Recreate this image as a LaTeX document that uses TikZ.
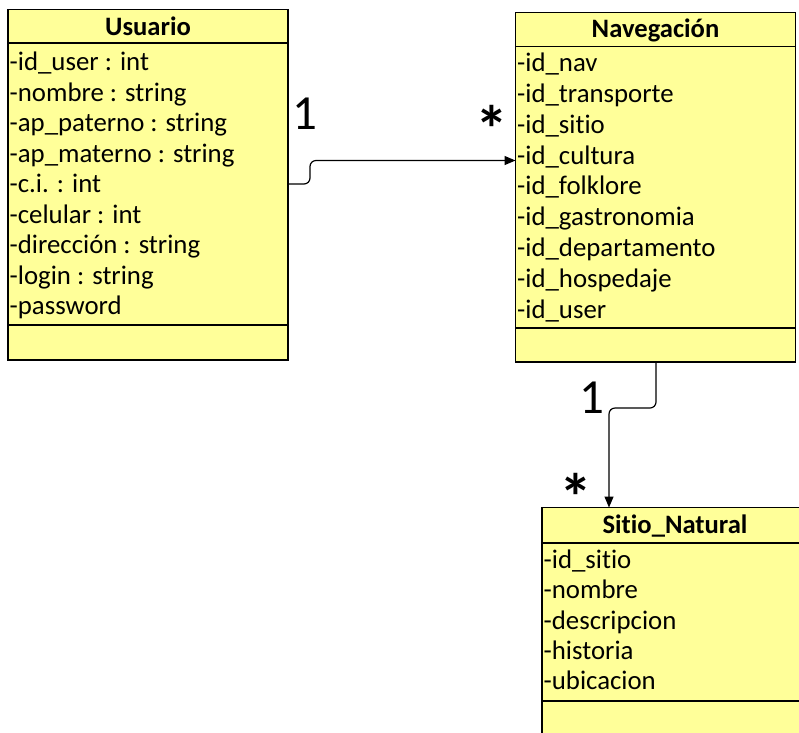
\documentclass[tikz,border=0pt]{standalone}
\usepackage{fontspec}
\setmainfont{Carlito}[Ligatures=NoCommon]
\usetikzlibrary{arrows.meta}
\definecolor{classfill}{HTML}{FFFF99}
\tikzset{
  classbox/.style={draw=black, line width=1.3pt, fill=classfill},
  sepline/.style={draw=black, line width=1.3pt},
  attr/.style={anchor=base west, inner sep=0pt, font=\fontsize{26.8}{30}\selectfont},
  ctitle/.style={anchor=base, inner sep=0pt, font=\fontsize{26.6}{30}\selectfont\bfseries},
  mult/.style={inner sep=0pt, font=\fontsize{49}{55}\selectfont},
  star/.style={anchor=base, inner sep=0pt, font=\fontsize{66}{70}\selectfont\bfseries},
  assoc/.style={draw=black, line width=1.2pt, rounded corners=6pt,
                -{Triangle[length=11pt,width=9pt]}}
}
\begin{document}
\begin{tikzpicture}[x=1pt, y=-1pt]
\useasboundingbox (0,0) rectangle (799,732);
\clip (0,0) rectangle (799,732);

% ---- Usuario ----
\path[classbox] (8,9.5) rectangle (288,360);
\draw[sepline] (8,43) -- (288,43);
\draw[sepline] (8,325) -- (288,325);
\node[ctitle] (usuarioT) at (148,35) {Usuario};
\node[attr] (u1) at (9.5,70.7) {-id\_user : int};
\node[attr] (u2) at (9.5,101.2) {-nombre : string};
\node[attr] (u3) at (9.5,131.7) {-ap\_paterno : string};
\node[attr] (u4) at (9.5,162.2) {-ap\_materno : string};
\node[attr] (u5) at (9.5,192.7) {-c.i. : int};
\node[attr] (u6) at (9.5,223.2) {-celular : int};
\node[attr] (u7) at (9.5,253.7) {-dirección : string};
\node[attr] (u8) at (9.5,284.2) {-login : string};
\node[attr] (u9) at (9.5,314.7) {-password};
\coordinate (usuarioR) at (288,184);

% ---- Navegación ----
\path[classbox] (515.5,12.5) rectangle (795.5,362);
\draw[sepline] (515.5,46.5) -- (795.5,46.5);
\draw[sepline] (515.5,328) -- (795.5,328);
\node[ctitle] (navT) at (655.5,37) {Navegación};
\node[attr] (n1) at (517,71.7) {-id\_nav};
\node[attr] (n2) at (517,102.5) {-id\_transporte};
\node[attr] (n3) at (517,133.3) {-id\_sitio};
\node[attr] (n4) at (517,164.1) {-id\_cultura};
\node[attr] (n5) at (517,194.9) {-id\_folklore};
\node[attr] (n6) at (517,225.7) {-id\_gastronomia};
\node[attr] (n7) at (517,256.5) {-id\_departamento};
\node[attr] (n8) at (517,287.3) {-id\_hospedaje};
\node[attr] (n9) at (517,318.1) {-id\_user};
\coordinate (navL) at (515.5,160.5);
\coordinate (navB) at (656,362);

% ---- Sitio_Natural ----
\path[classbox] (542,507.5) rectangle (810,745);
\draw[sepline] (542,543) -- (810,543);
\draw[sepline] (542,701) -- (810,701);
\node[ctitle] (sitioT) at (675,533.5) {Sitio\_Natural};
\node[attr] (s1) at (543.5,568.3) {-id\_sitio};
\node[attr] (s2) at (543.5,598.7) {-nombre};
\node[attr] (s3) at (543.5,629.1) {-descripcion};
\node[attr] (s4) at (543.5,659.5) {-historia};
\node[attr] (s5) at (543.5,689.9) {-ubicacion};
\coordinate (sitioT0) at (609,507.5);

% ---- associations ----
\draw[assoc] (usuarioR) -- (310,184) -- (310,160.5) -- (navL);
\draw[assoc] (navB) -- (656,408) -- (609,408) -- (sitioT0);

% ---- multiplicities ----
\node[mult] (m1) at (305,114) {1};
\node[star] (m2) at (492,152) {*};
\node[mult] (m3) at (592,398) {1};
\node[star] (m4) at (576,520) {*};
\end{tikzpicture}
\end{document}
